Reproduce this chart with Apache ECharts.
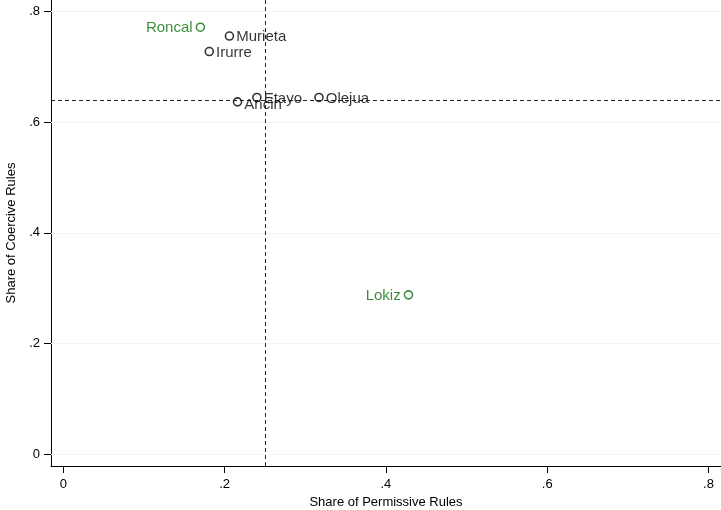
<!DOCTYPE html>
<html>
<head>
<meta charset="utf-8">
<script src="https://cdn.jsdelivr.net/npm/echarts@6/dist/echarts.min.js"></script>
<style>
  html, body { margin: 0; padding: 0; background: #fff; }
  #chart { width: 721px; height: 510px; }
</style>
</head>
<body>
<div id="chart"></div>
<script>
// Municipalities and their share of permissive / coercive rules
const towns       = ['Roncal', 'Murieta', 'Irurre', 'Etayo', 'Olejua', 'Ancin', 'Lokiz'];
const permissive  = [0.170, 0.206, 0.181, 0.240, 0.317, 0.216, 0.428];
const coercive    = [0.772, 0.756, 0.728, 0.645, 0.645, 0.637, 0.288];
const highlighted = ['Roncal', 'Lokiz'];

// Reference lines (sample means)
const meanPermissive = 0.25;
const meanCoercive   = 0.64;

// Axis ticks
const xTicks = [0, 0.2, 0.4, 0.6, 0.8];
const yTicks = [0, 0.2, 0.4, 0.6, 0.8];
const tickLabel = v => (v === 0 ? '0' : String(v).replace(/^0/, ''));

const GREEN = '#0e700e';
const FONT = 'Liberation Sans, Arial, Helvetica, sans-serif';

const normal = [], special = [];
towns.forEach((t, i) => {
  const item = { name: t, value: [permissive[i], coercive[i]] };
  (highlighted.includes(t) ? special : normal).push(item);
});

const chart = echarts.init(document.getElementById('chart'), null, { renderer: 'canvas' });

chart.setOption({
  animation: false,
  textStyle: { fontFamily: FONT },
  grid: { left: 51, right: 0, top: 0, bottom: 44, containLabel: false, outerBoundsMode: 'none' },
  xAxis: {
    type: 'value',
    min: -0.01525, max: 0.8155,
    name: 'Share of Permissive Rules',
    nameLocation: 'middle', nameGap: 29,
    nameTextStyle: { color: '#000', fontSize: 13, fontFamily: FONT },
    axisLine: { show: true, onZero: false, lineStyle: { color: '#000', width: 1 } },
    axisTick: { show: true, length: 7, customValues: xTicks, lineStyle: { color: '#000' } },
    axisLabel: { customValues: xTicks, formatter: tickLabel, color: '#000', fontSize: 13, margin: 12, fontFamily: FONT },
    splitLine: { show: false }
  },
  yAxis: {
    type: 'value',
    min: -0.0215, max: 0.8212,
    name: 'Share of Coercive Rules',
    nameLocation: 'middle', nameGap: 33, nameRotate: 90,
    nameTextStyle: { color: '#000', fontSize: 13, fontFamily: FONT },
    axisLine: { show: true, onZero: false, lineStyle: { color: '#000', width: 1 } },
    axisTick: { show: true, length: 7, customValues: yTicks, lineStyle: { color: '#000' } },
    axisLabel: { customValues: yTicks, formatter: tickLabel, color: '#000', fontSize: 13, margin: 11, fontFamily: FONT },
    splitLine: { show: false }
  },
  series: [
    {
      // light horizontal grid at the y ticks
      type: 'line', data: [], silent: true,
      markLine: {
        silent: true, symbol: 'none', animation: false,
        label: { show: false },
        lineStyle: { color: '#eef3f6', width: 1, type: 'solid' },
        data: yTicks.map(v => ({ yAxis: v }))
      }
    },
    {
      type: 'scatter',
      data: normal,
      symbol: 'circle', symbolSize: 8,
      itemStyle: { color: '#fff', borderColor: '#000', borderWidth: 1.6 },
      label: {
        show: true, position: 'right', distance: 2,
        formatter: p => p.name, color: '#000', fontSize: 15, fontFamily: FONT
      },
      labelLayout: p => (p.text === 'Ancin' ? { dy: 3 } : { dy: 1 }),
      markLine: {
        silent: true, symbol: 'none', animation: false,
        label: { show: false },
        lineStyle: { color: '#222', width: 1, type: [4, 3] },
        data: [{ xAxis: meanPermissive }, { yAxis: meanCoercive }]
      },
      z: 3
    },
    {
      type: 'scatter',
      data: special,
      symbol: 'circle', symbolSize: 8,
      itemStyle: { color: '#fff', borderColor: GREEN, borderWidth: 1.6 },
      label: {
        show: true, position: 'left', distance: 3,
        formatter: p => p.name, color: GREEN, fontSize: 15, fontFamily: FONT
      },
      labelLayout: { dy: 1 },
      z: 3
    }
  ]
});
</script>
</body>
</html>
